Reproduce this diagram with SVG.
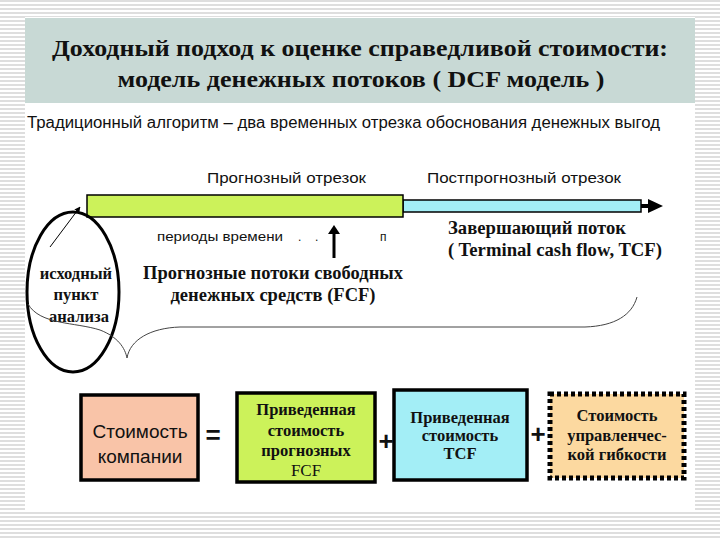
<svg xmlns="http://www.w3.org/2000/svg" width="720" height="540" viewBox="0 0 720 540">
<defs>
<pattern id="stripes" width="8" height="4" patternUnits="userSpaceOnUse">
<rect width="8" height="4" fill="#ffffff"/>
<rect width="8" height="2" fill="#dedede"/>
</pattern>
<marker id="ah" viewBox="0 0 10 10" refX="9" refY="5" markerWidth="6" markerHeight="6" orient="auto" markerUnits="userSpaceOnUse">
<path d="M0,0 L10,5 L0,10 z" fill="#000"/>
</marker>
<style>
.title{font-family:"Liberation Serif","Times New Roman",serif;font-weight:bold;font-size:23px;fill:#111;text-anchor:middle}
.sans{font-family:"Liberation Sans",Arial,sans-serif;fill:#111}
.serifb{font-family:"Liberation Serif","Times New Roman",serif;font-weight:bold;fill:#111}
.box{stroke:#000;stroke-width:3.5}
.thin{fill:none;stroke:#444;stroke-width:1}
</style>
</defs>
<rect width="720" height="540" fill="url(#stripes)"/>
<rect x="25" y="17" width="670" height="493" fill="#ffffff"/>
<g id="header">
<rect x="25" y="18" width="670" height="85" fill="#c8d9d5"/>
<text class="title" x="360" y="56" textLength="616" lengthAdjust="spacingAndGlyphs">Доходный подход к оценке справедливой стоимости:</text>
<text class="title" x="361" y="87" textLength="487" lengthAdjust="spacingAndGlyphs">модель денежных потоков ( DCF модель )</text>
</g>
<g id="subtitle">
<text class="sans" x="27" y="128" font-size="16" textLength="633" lengthAdjust="spacingAndGlyphs">Традиционный алгоритм – два временных отрезка обоснования денежных выгод</text>
</g>
<g id="timeline">
<text class="sans" x="207" y="183" font-size="14" textLength="159" lengthAdjust="spacingAndGlyphs">Прогнозный отрезок</text>
<text class="sans" x="427" y="183" font-size="14" textLength="194" lengthAdjust="spacingAndGlyphs">Постпрогнозный отрезок</text>
<rect x="403" y="200" width="238" height="12" fill="#a3eef6" stroke="#000" stroke-width="1.5"/>
<rect x="87" y="195" width="316" height="22" fill="#ccf25a" stroke="#000" stroke-width="1.5"/>
<path d="M641,206 L650,206" stroke="#000" stroke-width="4"/>
<path d="M648,199 L663,206 L648,213 z" fill="#000"/>
</g>
<g id="periods">
<text class="sans" x="157" y="241" font-size="12" textLength="126" lengthAdjust="spacingAndGlyphs">периоды времени</text>
<text class="sans" x="298" y="241" font-size="12">.</text>
<text class="sans" x="315" y="241" font-size="12">.</text>
<text class="sans" x="380" y="241" font-size="12">п</text>
<path d="M334,258 L334,230" stroke="#000" stroke-width="3"/>
<path d="M328,234 L334,225 L340,234 z" fill="#000"/>
</g>
<g id="fcf-label">
<text class="serifb" x="273" y="279" font-size="18" text-anchor="middle" textLength="260" lengthAdjust="spacingAndGlyphs">Прогнозные потоки свободных</text>
<text class="serifb" x="273" y="301" font-size="18" text-anchor="middle" textLength="205" lengthAdjust="spacingAndGlyphs">денежных средств (FCF)</text>
</g>
<g id="tcf-label">
<text class="serifb" x="448" y="234" font-size="18" textLength="178" lengthAdjust="spacingAndGlyphs">Завершающий поток</text>
<text class="serifb" x="448" y="256" font-size="18" textLength="214" lengthAdjust="spacingAndGlyphs">( Terminal cash flow, TCF)</text>
</g>
<g id="start-point">
<ellipse cx="73" cy="292" rx="46" ry="80" fill="none" stroke="#000" stroke-width="3"/>
<text class="serifb" x="76" y="279" font-size="16.5" text-anchor="middle">исходный</text>
<text class="serifb" x="76" y="300" font-size="16.5" text-anchor="middle">пункт</text>
<text class="serifb" x="79" y="322" font-size="16.5" text-anchor="middle">анализа</text>
</g>
<g id="connectors">
<path d="M50,247 L80,207" stroke="#000" stroke-width="1" marker-end="url(#ah)"/>
<path class="thin" d="M28,304 C40,325 75,322 100,330 C118,337 125,348 127,358"/>
<path class="thin" d="M127,358 C130,340 150,328 180,327 L585,327 C615,326 632,315 637,297"/>
</g>
<g id="company">
<rect class="box" x="81" y="395" width="117" height="85" fill="#f9c4a8"/>
<text class="sans" x="140" y="438" font-size="19" text-anchor="middle">Стоимость</text>
<text class="sans" x="140" y="463" font-size="19" text-anchor="middle">компании</text>
</g>
<text class="sans" x="213" y="444" font-size="26" font-weight="bold" text-anchor="middle">=</text>
<g id="pv-fcf">
<rect class="box" x="237" y="393" width="138" height="89" fill="#ccf25a"/>
<text class="serifb" x="306" y="415" font-size="16.5" text-anchor="middle">Приведенная</text>
<text class="serifb" x="306" y="436" font-size="16.5" text-anchor="middle">стоимость</text>
<text class="serifb" x="306" y="456" font-size="16.5" text-anchor="middle">прогнозных</text>
<text x="306" y="476" font-size="17" text-anchor="middle" font-family="Liberation Serif, serif" fill="#111">FCF</text>
</g>
<text class="sans" x="386" y="450" font-size="26" font-weight="bold" text-anchor="middle">+</text>
<g id="pv-tcf">
<rect class="box" x="394" y="390" width="133" height="90" fill="#a3eef6"/>
<text class="serifb" x="460" y="423" font-size="16.5" text-anchor="middle">Приведенная</text>
<text class="serifb" x="460" y="441" font-size="16.5" text-anchor="middle">стоимость</text>
<text class="serifb" x="460" y="459" font-size="16.5" text-anchor="middle">TCF</text>
</g>
<text class="sans" x="538" y="443" font-size="26" font-weight="bold" text-anchor="middle">+</text>
<g id="flexibility">
<rect x="550" y="394" width="134" height="84" fill="#fcd9a0" stroke="#000" stroke-width="5" stroke-dasharray="4,3"/>
<text class="serifb" x="617" y="421" font-size="16.5" text-anchor="middle">Стоимость</text>
<text class="serifb" x="617" y="441" font-size="16.5" text-anchor="middle">управленчес-</text>
<text class="serifb" x="617" y="460" font-size="16.5" text-anchor="middle">кой гибкости</text>
</g>
</svg>
